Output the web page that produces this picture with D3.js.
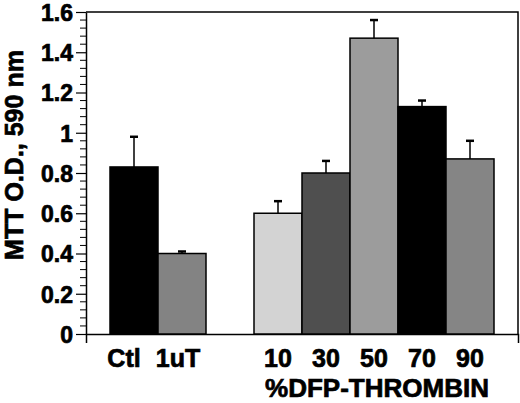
<!DOCTYPE html>
<html>
<head>
<meta charset="utf-8">
<script src="https://cdn.jsdelivr.net/npm/d3@7"></script>
<style>
  body { margin: 0; background: #fff; }
  svg text { font-family: "Liberation Sans", Arial, Helvetica, sans-serif; font-weight: bold; fill: #000; stroke: #000; stroke-width: 0.7px; }
</style>
</head>
<body>
<svg id="chart"></svg>
<script>
// data
const categories = ["Ctl", "1uT", "10", "30", "50", "70", "90"];
const values = [0.83, 0.40, 0.60, 0.80, 1.47, 1.13, 0.87];
const errors = [0.15, 0.01, 0.06, 0.06, 0.09, 0.03, 0.09];
const yTicks = [0, 0.2, 0.4, 0.6, 0.8, 1, 1.2, 1.4, 1.6];
const barColors = ["#000000", "#838383", "#d3d3d3", "#4f4f4f", "#9c9c9c", "#000000", "#858585"];

const width = 520, height = 403;
const margin = { top: 12, right: 2, bottom: 69, left: 86 };
const innerW = width - margin.left - margin.right;
const innerH = height - margin.top - margin.bottom;

const data = categories.map((c, i) => ({ cat: c, value: values[i], err: errors[i], color: barColors[i] }));

// empty slot between the controls and the DFP-thrombin series
const slots = [categories[0], categories[1], "_gap", ...categories.slice(2)];

const x = d3.scaleBand().domain(slots).range([0, innerW]).paddingInner(0).paddingOuter(0.5);
const y = d3.scaleLinear().domain([0, 1.6]).range([innerH, 0]);

const svg = d3.select("#chart").attr("width", width).attr("height", height);
const g = svg.append("g").attr("transform", `translate(${margin.left},${margin.top})`);

// frame: top and right
g.append("path")
  .attr("d", `M0,0H${innerW}V${innerH}`)
  .attr("fill", "none")
  .attr("stroke", "#000")
  .attr("stroke-width", 1.5);

// minor ticks every 0.04
const minor = d3.range(0, 1.6001, 0.04).filter(v => Math.abs(v * 5 - Math.round(v * 5)) > 1e-6);
g.append("g")
  .selectAll("line")
  .data(minor)
  .join("line")
  .attr("x1", -6).attr("x2", 0)
  .attr("y1", d => y(d)).attr("y2", d => y(d))
  .attr("stroke", "#000").attr("stroke-width", 1);

// y axis
const yAxis = d3.axisLeft(y)
  .tickValues(yTicks)
  .tickFormat(d => d3.format("")(+d.toFixed(1)))
  .tickSizeInner(10)
  .tickSizeOuter(0)
  .tickPadding(3);
const yG = g.append("g").call(yAxis);
yG.select(".domain").attr("stroke-width", 1.5);
yG.selectAll(".tick line").attr("stroke-width", 1.2);
yG.selectAll("text").style("font-size", "23px").attr("dy", "0.36em");

// baseline with end ticks dropping below
const xLine = d3.scaleLinear().range([0, innerW]);
const xLineAxis = d3.axisBottom(xLine).tickValues([]).tickSizeOuter(9);
g.append("g").attr("transform", `translate(0,${innerH})`).call(xLineAxis)
  .select(".domain").attr("stroke-width", 1.5);

// bars
g.append("g")
  .selectAll("rect")
  .data(data)
  .join("rect")
  .attr("x", d => x(d.cat))
  .attr("y", d => y(d.value))
  .attr("width", x.bandwidth())
  .attr("height", d => innerH - y(d.value))
  .attr("fill", d => d.color)
  .attr("stroke", "#000")
  .attr("stroke-width", 1.5);

// error bars (upper half only)
const eb = g.append("g").selectAll("g").data(data).join("g");
eb.append("line")
  .attr("x1", d => x(d.cat) + x.bandwidth() / 2)
  .attr("x2", d => x(d.cat) + x.bandwidth() / 2)
  .attr("y1", d => y(d.value))
  .attr("y2", d => y(d.value + d.err))
  .attr("stroke", "#000").attr("stroke-width", 1.5);
eb.append("line")
  .attr("x1", d => x(d.cat) + x.bandwidth() / 2 - 4)
  .attr("x2", d => x(d.cat) + x.bandwidth() / 2 + 4)
  .attr("y1", d => y(d.value + d.err))
  .attr("y2", d => y(d.value + d.err))
  .attr("stroke", "#000").attr("stroke-width", 2.5);

// category labels
const xAxis = d3.axisBottom(x).tickValues(categories).tickSize(0).tickPadding(15);
const xG = g.append("g").attr("transform", `translate(0,${innerH})`).call(xAxis);
xG.select(".domain").remove();
xG.selectAll("text").style("font-size", "25px")
  .attr("dx", d => d === "Ctl" ? -10 : d === "1uT" ? -4 : 0);

// x title centred under the thrombin series
const first = x(categories[2]), last = x(categories[categories.length - 1]) + x.bandwidth();
g.append("text")
  .attr("x", (first + last) / 2 + 3)
  .attr("y", innerH + 63)
  .attr("text-anchor", "middle")
  .style("font-size", "26px")
  .attr("textLength", 224)
  .attr("lengthAdjust", "spacingAndGlyphs")
  .text("%DFP-THROMBIN");

// y title
svg.append("text")
  .attr("transform", `translate(23,${margin.top + innerH / 2 - 18}) rotate(-90)`)
  .attr("text-anchor", "middle")
  .style("font-size", "25px")
  .text("MTT O.D., 590 nm");
</script>
</body>
</html>
